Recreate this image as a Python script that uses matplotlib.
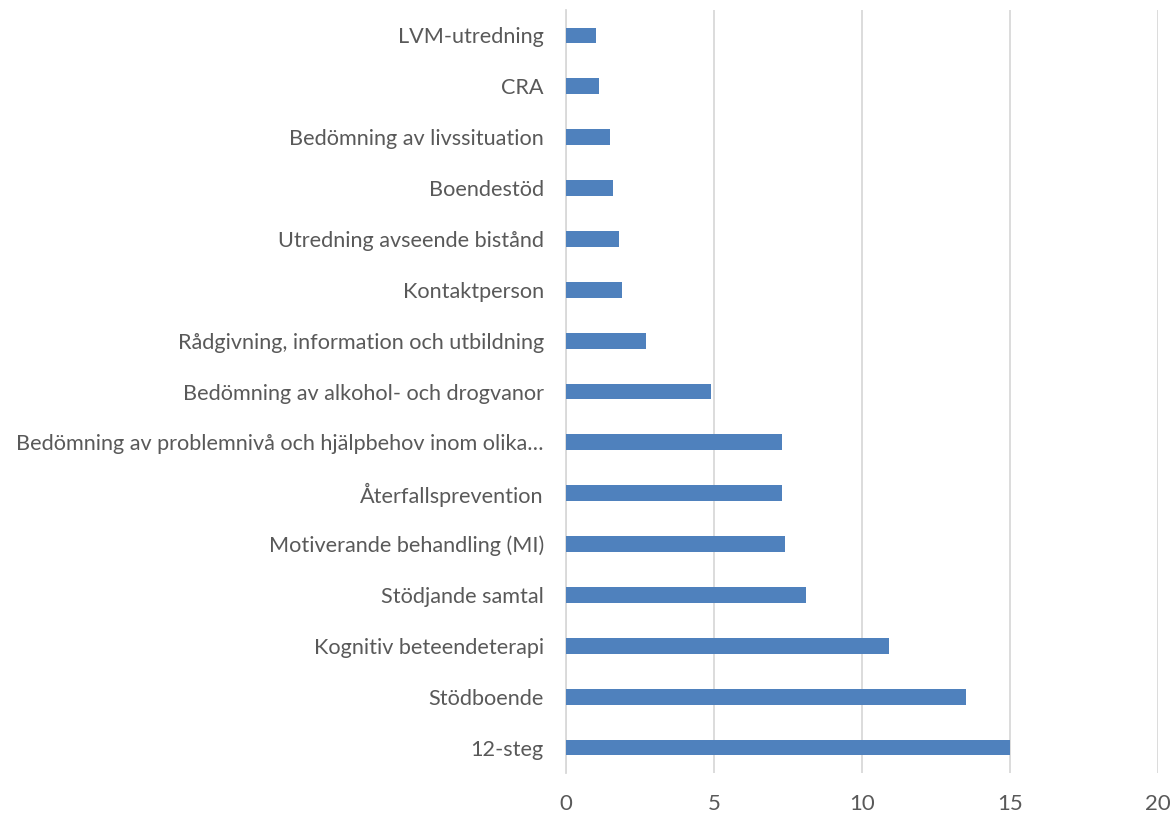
import matplotlib
matplotlib.use('Agg')
import matplotlib.pyplot as plt

# categories listed bottom to top (as drawn)
categories = [
    '12-steg',
    'Stödboende',
    'Kognitiv beteendeterapi',
    'Stödjande samtal',
    'Motiverande behandling (MI)',
    'Återfallsprevention',
    'Bedömning av problemnivå och hjälpbehov inom olika…',
    'Bedömning av alkohol- och drogvanor',
    'Rådgivning, information och utbildning',
    'Kontaktperson',
    'Utredning avseende bistånd',
    'Boendestöd',
    'Bedömning av livssituation',
    'CRA',
    'LVM-utredning',
]
values = [15.0, 13.5, 10.9, 8.1, 7.4, 7.3, 7.3, 4.9, 2.7, 1.9, 1.8, 1.6, 1.5, 1.1, 1.0]
xticks = [0, 5, 10, 15, 20]

plt.rcParams['font.family'] = ['Lato', 'DejaVu Sans']

fig = plt.figure(figsize=(11.7, 8.17), dpi=100)
ax = fig.add_axes([566 / 1170, 44 / 817, 592 / 1170, 763 / 817])

ypos = range(len(categories))
ax.barh(ypos, values, height=0.31, color='#4F81BD', zorder=3)

ax.set_xlim(0, 20)
ax.set_ylim(-0.5, len(categories) - 0.5)
ax.set_xticks(xticks)
ax.set_yticks(list(ypos))
ax.set_yticklabels(categories)

ax.grid(axis='x', color='#D9D9D9', linewidth=1.3, zorder=0)
for s in ['top', 'right', 'bottom']:
    ax.spines[s].set_visible(False)
ax.spines['left'].set_color('#D9D9D9')
ax.spines['left'].set_linewidth(1.3)

ax.tick_params(axis='y', length=0, pad=16, labelsize=15.6, labelcolor='#595959')
ax.tick_params(axis='x', length=0, pad=15, labelsize=16, labelcolor='#595959')

fig.savefig('out.png', dpi=100)
